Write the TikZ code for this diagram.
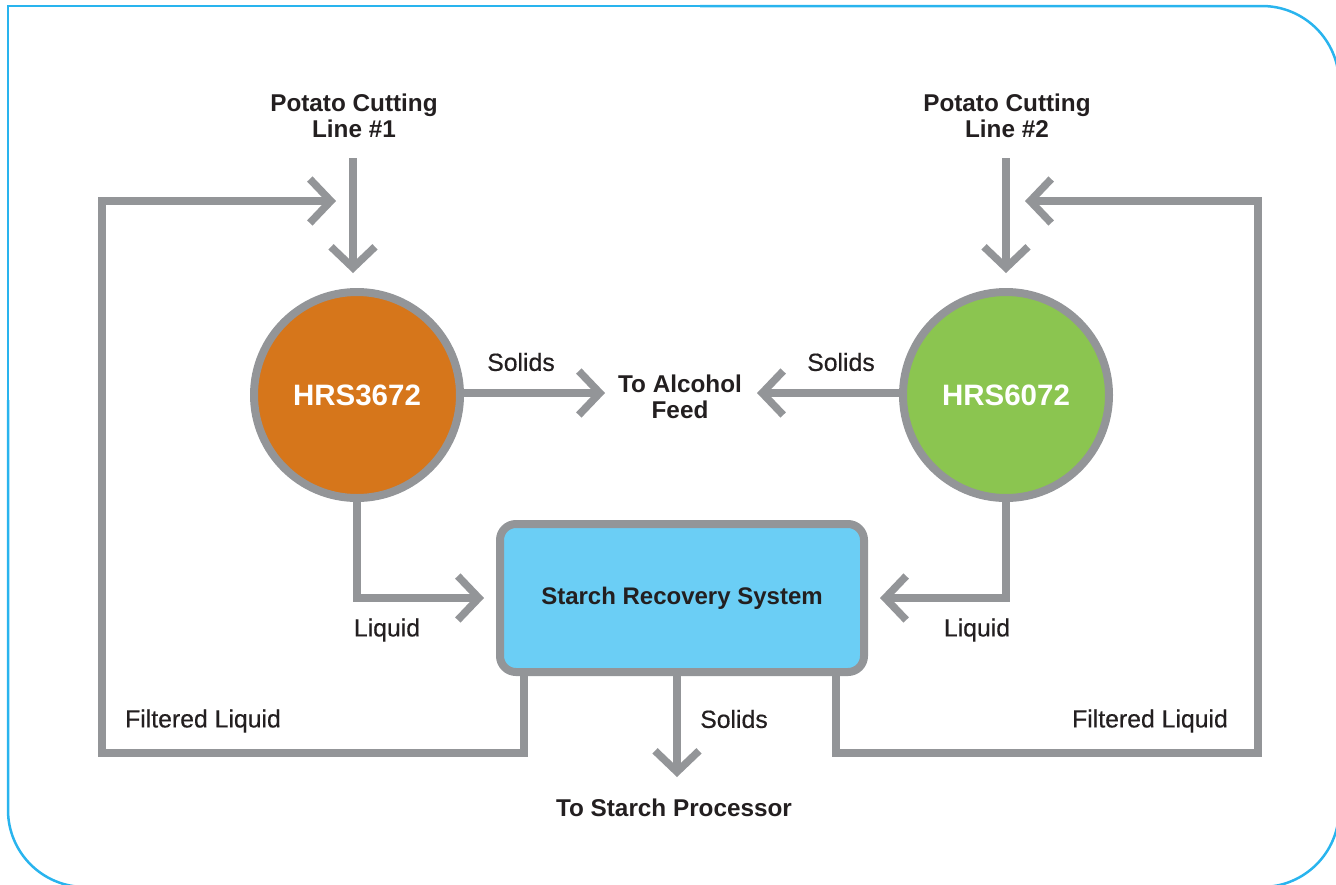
\documentclass[tikz,border=0pt]{standalone}
\usepackage{fontspec}
\setmainfont{Liberation Sans}
\newfontfamily\medfont[FakeBold=0.5]{Liberation Sans}
\usetikzlibrary{arrows.meta}
\definecolor{lgray}{HTML}{939598}
\definecolor{horange}{HTML}{D6761B}
\definecolor{hgreen}{HTML}{8BC550}
\definecolor{hblue}{HTML}{6BCEF5}
\definecolor{frameblue}{HTML}{29B4EE}
\definecolor{txt}{HTML}{231F20}
\tikzset{
  conn/.style={draw=lgray, line width=7.5pt},
  arr/.style={conn, -{Straight Barb[length=21pt,width=44pt]}},
  unit/.style={circle, draw=lgray, line width=8pt, minimum size=206pt, inner sep=0pt,
    text=white, font=\fontsize{29.5}{34}\selectfont\bfseries},
  sysbox/.style={rectangle, rounded corners=16pt, draw=lgray, line width=8pt, fill=hblue,
    minimum width=364pt, minimum height=148pt, inner sep=0pt, text=txt,
    font=\fontsize{24}{28}\selectfont\bfseries},
  btitle/.style={align=center, text=txt, font=\fontsize{24.3}{26}\selectfont\bfseries, inner sep=0pt},
  lab/.style={text=txt, font=\fontsize{24.8}{26}\selectfont\medfont, inner sep=0pt},
  framestyle/.style={draw=frameblue, line width=2.5pt}
}
\begin{document}
\begin{tikzpicture}[x=1pt,y=-1pt]
\useasboundingbox (0,0) rectangle (1336,884);
% frame
\draw[framestyle] (8,400) -- (8,6) -- (700,6);
\draw[framestyle, rounded corners=77pt] (700,6) -- (1339,6) -- (1339,887) -- (8,887) -- (8,400);

% nodes
\node[unit, fill=horange] (c1) at (357,395) {HRS3672};
\node[unit, fill=hgreen] (c2) at (1006,395) {HRS6072};
\node[sysbox] (box) at (682,598) {Starch Recovery System};

\node[btitle] (t1) at (354,116) {Potato Cutting\\Line \#1};
\node[btitle] (t2) at (1007,116) {Potato Cutting\\Line \#2};
\node[btitle] (alc) at (680,397) {To Alcohol\\Feed};
\node[btitle] (stp) at (674,808) {To Starch Processor};

\node[lab] (s1) at (521,362) {Solids};
\node[lab] (s2) at (841,362) {Solids};
\node[lab] (l1) at (387,630) {Liquid};
\node[lab] (l2) at (977,630) {Liquid};
\node[lab] (f1) at (203,721) {Filtered Liquid};
\node[lab] (f2) at (1150,721) {Filtered Liquid};
\node[lab] (s3) at (734,719) {Solids};

% named coordinates
\coordinate (in1) at (353,158);
\coordinate (tip1) at (353,273);
\coordinate (in2) at (1006,158);
\coordinate (tip2) at (1006,273);
\coordinate (alcL) at (605,393);
\coordinate (alcR) at (757,393);
\coordinate (liqL) at (484,598);
\coordinate (liqR) at (880,598);
\coordinate (fbLx) at (524,0);
\coordinate (fbRx) at (836,0);
\coordinate (fbLc) at (102,753);
\coordinate (fbRc) at (1258,753);
\coordinate (fbLtip) at (336,201);
\coordinate (fbRtip) at (1025,201);
\coordinate (stpTip) at (677,777);

% connectors
\draw[arr] (in1) -- (tip1);
\draw[arr] (in2) -- (tip2);
\draw[arr] (c1.east |- alcL) -- (alcL);
\draw[arr] (c2.west |- alcR) -- (alcR);
\draw[arr] (c1.south) |- (liqL);
\draw[arr] (c2.south) |- (liqR);
\draw[arr] (box.south -| fbLx) |- (fbLc) |- (fbLtip);
\draw[arr] (box.south -| fbRx) |- (fbRc) |- (fbRtip);
\draw[arr] (box.south -| stpTip) -- (stpTip);
\end{tikzpicture}
\end{document}
